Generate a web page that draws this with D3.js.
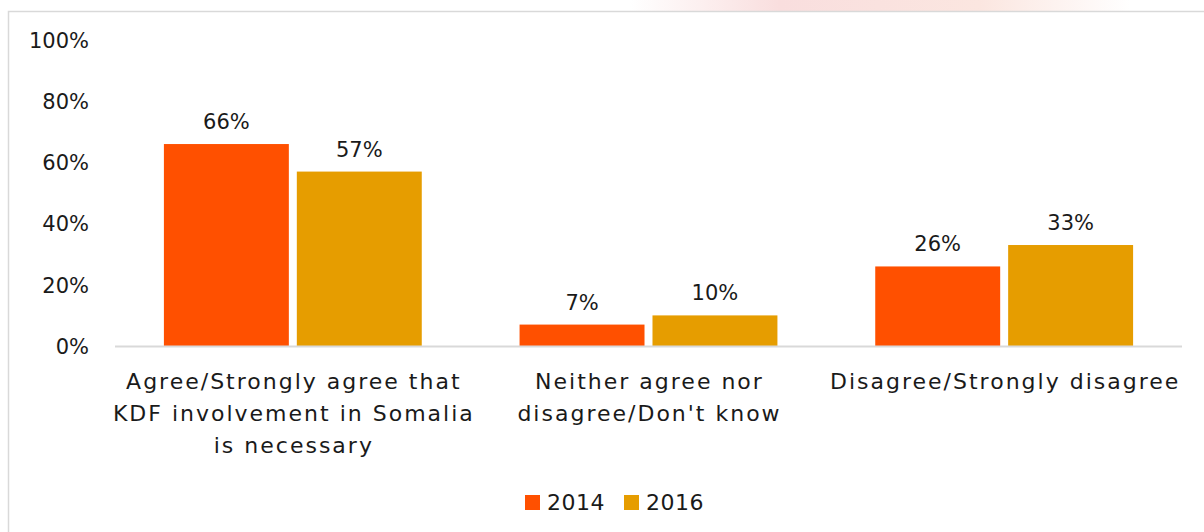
<!DOCTYPE html>
<html><head><meta charset="utf-8">
<script src="https://cdn.jsdelivr.net/npm/d3@7"></script>
<style>html,body{margin:0;padding:0;background:#fff;overflow:hidden;}svg{display:block;}</style>
</head><body>
<script>
const categories = [
  ["Agree/Strongly agree that", "KDF involvement in Somalia", "is necessary"],
  ["Neither agree nor", "disagree/Don't know"],
  ["Disagree/Strongly disagree"]
];
const seriesNames = ["2014", "2016"];
const values2014 = [66, 7, 26];
const values2016 = [57, 10, 33];
const yTicks = [0, 20, 40, 60, 80, 100];
const colors = ["#FF5000", "#E69D00"];

(function () {
const W = 1204, H = 532;
const FONT = "'DejaVu Sans', sans-serif";
const svg = d3.select("body").append("svg").attr("width", W).attr("height", H);

const grad = svg.append("defs").append("linearGradient").attr("id","wm").attr("x1",0).attr("x2",1);
grad.append("stop").attr("offset","0%").attr("stop-color","#fff");
grad.append("stop").attr("offset","30%").attr("stop-color","#f9dede");
grad.append("stop").attr("offset","70%").attr("stop-color","#fbe6e0");
grad.append("stop").attr("offset","100%").attr("stop-color","#fff");
svg.append("rect").attr("x",630).attr("y",0).attr("width",500).attr("height",11).attr("fill","url(#wm)");

svg.append("rect").attr("x",8.5).attr("y",11.5).attr("width",1210).attr("height",540)
  .attr("fill","#fff").attr("stroke","#d9d9d9").attr("stroke-width",1.5);

const pLeft = 115, pRight = 1182, pTop = 40, pBottom = 346;
const x0 = d3.scaleBand().domain(d3.range(categories.length)).range([pLeft, pRight]).paddingInner(0.275).paddingOuter(0.1375);
const x1 = d3.scaleBand().domain(seriesNames).range([0, x0.bandwidth()]).paddingInner(0.06);
const y = d3.scaleLinear().domain([0, 100]).range([pBottom, pTop]);

const yAxis = d3.axisLeft(y).tickValues(yTicks).tickFormat(d => d + "%").tickSize(0).tickPadding(0);
const gy = svg.append("g").attr("transform", `translate(89,0)`).call(yAxis);
gy.select(".domain").remove();
gy.selectAll("text").attr("font-family", FONT).attr("font-size", 21).attr("fill", "#1a1a1a").attr("dy","0.35em");

const series = [values2014, values2016];
categories.forEach((c, i) => {
  series.forEach((vals, s) => {
    const bx = x0(i) + x1(seriesNames[s]);
    svg.append("rect").attr("x", bx).attr("y", y(vals[i])).attr("width", x1.bandwidth())
      .attr("height", y(0) - y(vals[i])).attr("fill", colors[s]);
    svg.append("text").attr("x", bx + x1.bandwidth()/2).attr("y", y(vals[i]) - 15)
      .attr("text-anchor","middle").attr("font-family", FONT).attr("font-size", 21).attr("fill","#1a1a1a")
      .text(vals[i] + "%");
  });
});

svg.append("line").attr("x1", pLeft).attr("x2", pRight).attr("y1", pBottom + 0.5).attr("y2", pBottom + 0.5)
  .attr("stroke", "#d9d9d9").attr("stroke-width", 2);

categories.forEach((lines, i) => {
  const t = svg.append("text").attr("text-anchor","middle").attr("font-family", FONT)
    .attr("font-size", 22).attr("letter-spacing", 2).attr("fill","#1a1a1a");
  lines.forEach((l, k) => {
    t.append("tspan").attr("x", x0(i) + x0.bandwidth()/2 + 1).attr("y", 389 + k*32).text(l);
  });
});

const legend = svg.append("g");
const legX = [525, 624];
seriesNames.forEach((n, s) => {
  legend.append("rect").attr("x", legX[s]).attr("y", 495).attr("width", 15).attr("height", 15).attr("fill", colors[s]);
  legend.append("text").attr("x", legX[s] + 22).attr("y", 510).attr("font-family", FONT)
    .attr("font-size", 22).attr("letter-spacing", 0.5).attr("fill","#1a1a1a").text(n);
});
})();
</script>
</body></html>
